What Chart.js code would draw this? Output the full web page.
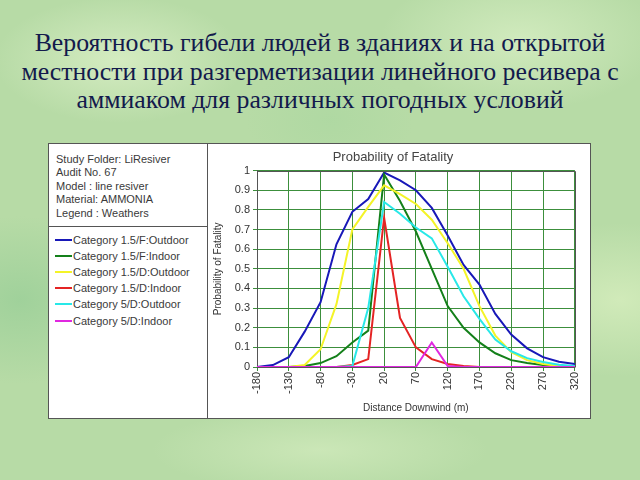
<!DOCTYPE html>
<html>
<head>
<meta charset="utf-8">
<script src="https://cdn.jsdelivr.net/npm/chart.js@4/dist/chart.umd.min.js"></script>
<style>
  html, body { margin: 0; padding: 0; }
  body { width: 640px; height: 480px; overflow: hidden; position: relative;
    background-color: #b7dba6;
    background-image:
      radial-gradient(ellipse 180px 90px at 120px 60px, rgba(220,240,200,0.8), rgba(220,240,200,0) 70%),
      radial-gradient(ellipse 200px 100px at 520px 40px, rgba(215,238,195,0.8), rgba(215,238,195,0) 70%),
      radial-gradient(ellipse 160px 120px at 20px 300px, rgba(150,205,150,0.7), rgba(150,205,150,0) 70%),
      radial-gradient(ellipse 180px 110px at 620px 300px, rgba(215,238,190,0.8), rgba(215,238,190,0) 70%),
      radial-gradient(ellipse 240px 60px at 320px 450px, rgba(205,232,185,0.9), rgba(205,232,185,0) 70%),
      radial-gradient(ellipse 120px 80px at 330px 120px, rgba(170,215,160,0.6), rgba(170,215,160,0) 70%);
  }
  #title { position: absolute; left: 0; top: 29px; width: 640px; text-align: center;
    font-family: "Liberation Serif", "DejaVu Serif", serif; font-size: 25.8px; line-height: 28.5px; color: #131a4c; }
  #panel { position: absolute; left: 48px; top: 143px; width: 541px; height: 274px;
    background: #fff; border: 1px solid #555; }
  #leftcol { position: absolute; left: 0; top: 0; width: 158px; height: 274px; border-right: 1px solid #555; }
  #info { position: absolute; left: 0; top: 0; width: 158px; height: 82px; border-bottom: 1px solid #555;
    font-family: "Liberation Sans", Arial, sans-serif; font-size: 11px; color: #3a3a3a; }
  #info div { position: absolute; left: 7px; white-space: nowrap; }
  #legend { position: absolute; left: 0; top: 83px; width: 158px;
    font-family: "Liberation Sans", Arial, sans-serif; font-size: 11px; color: #3a3a3a; }
  .lrow { position: absolute; left: 6px; height: 14px; white-space: nowrap; }
  .lrow span.sw { position: absolute; left: 0; top: 6px; width: 17px; height: 2px; }
  .lrow span.tx { position: absolute; left: 18px; top: 0; line-height: 14px; }
  #chartbox { position: absolute; left: 208px; top: 144px; width: 381px; height: 273px; }
</style>
</head>
<body>
<div id="title">Вероятность гибели людей в зданиях и на открытой<br>местности при разгерметизации линейного ресивера с<br>аммиаком для различных погодных условий</div>
<div id="panel">
  <div id="leftcol">
    <div id="info"></div>
    <div id="legend"></div>
  </div>
</div>
<div id="chartbox"><canvas id="c" width="381" height="273"></canvas></div>
<script>
// ---- data ----
const distances = [-180, -155, -130, -105, -80, -55, -30, -5, 20, 45, 70, 95, 120, 145, 170, 195, 220, 245, 270, 295, 320];
const yTicks = [0, 0.1, 0.2, 0.3, 0.4, 0.5, 0.6, 0.7, 0.8, 0.9, 1];
const infoLines = ["Study Folder: LiResiver", "Audit No. 67", "Model : line resiver", "Material: AMMONIA", "Legend : Weathers"];

const cat15FOutdoor = [0, 0.01, 0.05, 0.18, 0.33, 0.625, 0.79, 0.855, 0.99, 0.95, 0.90, 0.81, 0.67, 0.52, 0.42, 0.27, 0.165, 0.095, 0.05, 0.027, 0.015];
const cat15FIndoor  = [0, 0, 0, 0.005, 0.02, 0.055, 0.125, 0.185, 0.98, 0.845, 0.69, 0.50, 0.31, 0.20, 0.125, 0.07, 0.035, 0.02, 0.01, 0.003, 0];
const cat15DOutdoor = [0, 0, 0, 0.01, 0.09, 0.32, 0.70, 0.815, 0.925, 0.88, 0.83, 0.75, 0.63, 0.50, 0.31, 0.16, 0.075, 0.035, 0.015, 0.005, 0];
const cat15DIndoor  = [0, 0, 0, 0, 0, 0, 0.01, 0.04, 0.76, 0.25, 0.10, 0.04, 0.015, 0.005, 0, 0, 0, 0, 0, 0, 0];
const cat5DOutdoor  = [0, 0, 0, 0, 0, 0, 0.005, 0.30, 0.84, 0.78, 0.71, 0.655, 0.51, 0.36, 0.245, 0.14, 0.08, 0.045, 0.025, 0.012, 0.005];
const cat5DIndoor   = [0, 0, 0, 0, 0, 0, 0, 0, 0, 0, 0, 0.125, 0.005, 0, 0, 0, 0, 0, 0, 0, 0];

const seriesNames = ["Category 1.5/F:Outdoor", "Category 1.5/F:Indoor", "Category 1.5/D:Outdoor", "Category 1.5/D:Indoor", "Category 5/D:Outdoor", "Category 5/D:Indoor"];
const seriesValues = [cat15FOutdoor, cat15FIndoor, cat15DOutdoor, cat15DIndoor, cat5DOutdoor, cat5DIndoor];
const seriesColors = ["#1818b8", "#14801a", "#f4f428", "#e42424", "#28e8e8", "#e028e0"];

// ---- info + legend (HTML text) ----
const info = document.getElementById('info');
infoLines.forEach((t, i) => {
  const d = document.createElement('div');
  d.style.top = (9 + i * 13.4) + 'px';
  d.textContent = t;
  info.appendChild(d);
});
const legend = document.getElementById('legend');
seriesNames.forEach((n, i) => {
  const r = document.createElement('div');
  r.className = 'lrow';
  r.style.top = (6 + i * 16.1) + 'px';
  r.innerHTML = '<span class="sw" style="background:' + seriesColors[i] + '"></span><span class="tx"></span>';
  r.querySelector('.tx').textContent = n;
  legend.appendChild(r);
});

// ---- chart ----
const frame = {
  id: 'frame',
  afterDatasetsDraw(chart) {
    const a = chart.chartArea, ctx = chart.ctx;
    ctx.save();
    ctx.strokeStyle = '#555';
    ctx.lineWidth = 1;
    ctx.beginPath();
    ctx.moveTo(Math.round(a.left) + 0.5, Math.round(a.top) + 0.5);
    ctx.lineTo(Math.round(a.right) + 0.5, Math.round(a.top) + 0.5);
    ctx.lineTo(Math.round(a.right) + 0.5, Math.round(a.bottom) + 0.5);
    ctx.stroke();
    ctx.restore();
  }
};

const gridGreen = '#3c8f3c';
const fontFam = '"Liberation Sans", Arial, sans-serif';

new Chart(document.getElementById('c'), {
  type: 'line',
  data: {
    labels: distances,
    datasets: seriesNames.map((n, i) => ({
      label: n,
      data: seriesValues[i],
      borderColor: seriesColors[i],
      backgroundColor: seriesColors[i],
      borderWidth: 2,
      pointRadius: 0,
      tension: 0,
      fill: false,
      order: seriesNames.length - i
    }))
  },
  options: {
    responsive: false,
    animation: false,
    layout: { padding: { left: 0, right: 11, top: 0, bottom: 0 } },
    plugins: {
      legend: { display: false },
      tooltip: { enabled: false },
      title: {
        display: true, text: 'Probability of Fatality', color: '#444',
        font: { family: fontFam, size: 13, weight: 'normal' },
        padding: { top: 6, bottom: 5 }
      }
    },
    scales: {
      x: {
        type: 'category',
        afterFit(s) { s.height = 50; },
        border: { color: '#555', width: 1 },
        grid: {
          color: (ctx) => (ctx.index % 2 === 0 ? gridGreen : 'rgba(0,0,0,0)'),
          tickLength: 4
        },
        ticks: {
          autoSkip: false, maxRotation: 90, minRotation: 90, padding: 1,
          color: '#333', font: { family: fontFam, size: 11 },
          callback: (v, i) => (i % 2 === 0 ? String(distances[i]) : '')
        },
        title: {
          display: true, text: 'Distance Downwind (m)', color: '#333',
          font: { family: fontFam, size: 10 }, padding: { top: 0, bottom: 3 }
        }
      },
      y: {
        min: 0, max: 1,
        afterFit(s) { s.width = 49; },
        afterBuildTicks(s) { s.ticks = yTicks.map(v => ({ value: v })); },
        border: { color: '#555', width: 1 },
        grid: { color: gridGreen, tickLength: 4 },
        ticks: {
          padding: 3, color: '#333', font: { family: fontFam, size: 11 },
          callback: (v) => String(Math.round(v * 10) / 10)
        },
        title: {
          display: true, text: 'Probability of Fatality', color: '#333',
          font: { family: fontFam, size: 10 }, padding: { top: 4, bottom: 0 }
        }
      }
    }
  },
  plugins: [frame]
});
</script>
</body>
</html>
